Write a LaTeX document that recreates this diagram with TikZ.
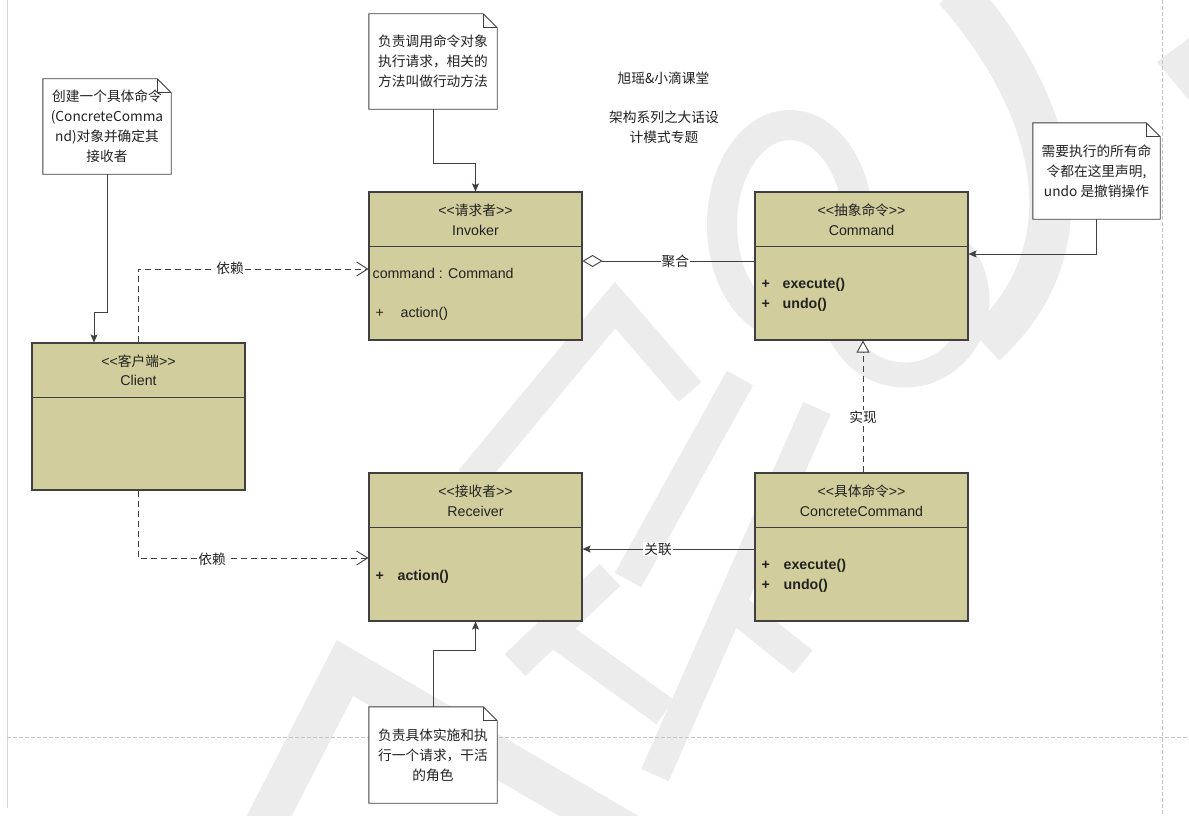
\documentclass[tikz,border=0pt]{standalone}
\usepackage{fontspec}
\setmainfont{Liberation Sans}
\newfontfamily\cjk[Scale=0.965]{Noto Sans CJK SC}
\usetikzlibrary{arrows.meta,calc}
\definecolor{khaki}{RGB}{209,205,156}
\definecolor{ln}{RGB}{64,64,64}
\definecolor{wm}{RGB}{236,236,236}
\definecolor{pg}{RGB}{196,196,196}
\definecolor{tx}{RGB}{34,34,34}
\newcommand\myll{<\kern0pt<}
\newcommand\mygg{>\kern0pt>}
\begin{document}
\begin{tikzpicture}[x=1pt,y=-1pt,
  cls/.style={draw=ln, line width=1.1pt, fill=khaki, minimum width=213pt, minimum height=148pt, inner sep=0pt},
  notebox/.style={fill=white, minimum width=128pt, minimum height=95pt, inner sep=0pt, align=center, text=tx, font={\fontsize{14.2}{20}\selectfont\cjk}},
  nb/.style={draw=ln, line width=0.9pt},
  txt/.style={inner sep=0pt, text=tx, font={\fontsize{14.2}{20}\selectfont}},
  btxt/.style={txt, font={\fontsize{14.2}{20}\selectfont\bfseries}},
  conn/.style={draw=ln, line width=0.9pt},
  dep/.style={conn, dash pattern=on 6pt off 4pt},
  lbl/.style={fill=white, inner sep=1pt, text=tx, font={\fontsize{14.2}{20}\selectfont\cjk}},
  tipf/.style={-{Stealth[length=8pt,width=7pt,inset=1.5pt]}},
  tipo/.style={-{Straight Barb[length=11pt,width=14pt,line width=0.9pt]}}
]
\useasboundingbox (0,0) rectangle (1189,816);
\fill[white] (0,0) rectangle (1189,816);

% watermark
\begin{scope}[draw=wm, fill=wm, line width=30pt]
\draw[line width=42pt] (955,-10) .. controls (1060,110) and (1090,250) .. (985,345);
\draw (790,225) ellipse [x radius=68pt, y radius=100pt];
\draw[line width=25pt] (905,300) ellipse [x radius=72pt, y radius=75pt];
\draw (470,480) -- (615,305) -- (690,392);
\draw (740,378) -- (628,580);
\draw (817,408) -- (655,775);
\draw (728,602) -- (803,662);
\draw (560,636) -- (665,712);
\draw (610,575) -- (515,665);
\draw[line width=40pt] (262,830) -- (345,668) -- (640,840);
\fill (1157,62) -- (1189,38) -- (1189,100) -- cycle;
\end{scope}

% page lines
\draw[pg!70, line width=1pt] (7,0) -- (7,808);
\draw[pg, dash pattern=on 4pt off 2pt, line width=0.8pt] (1162,0) -- (1162,816);
\draw[pg, dash pattern=on 4pt off 2pt, line width=0.8pt] (7,737) -- (1189,737);

% title
\node[txt, font={\fontsize{14.2}{20}\selectfont\cjk}] (t1) at (663.5,78) {旭瑶\&小滴课堂};
\node[txt, align=center, font={\fontsize{14.2}{20}\selectfont\cjk}] (t2) at (664,127) {架构系列之大话设\\计模式专题};

% class boxes
\node[cls] (inv) at (475.5,266) {};
\node[cls] (cmd) at (861.5,266) {};
\node[cls, minimum height=147pt] (cli) at (138.5,416.5) {};
\node[cls] (rcv) at (475.5,547) {};
\node[cls] (cc) at (861.5,547) {};
\foreach \b in {inv,cmd,cli,rcv,cc}{
  \draw[draw=ln, line width=1pt] ([yshift=-55pt]\b.north west) -- ([yshift=-55pt]\b.north east);
}

% class texts
\node[txt] (inv1) at ([yshift=-19pt]inv.north) {\myll{\cjk 请求者}\mygg};
\node[txt] (inv2) at ([yshift=-39pt]inv.north) {Invoker};
\node[txt, anchor=west] (inv3) at ([xshift=4pt,yshift=-82pt]inv.north west) {command : Command};
\node[txt, anchor=west] (inv4) at ([xshift=7pt,yshift=-122pt]inv.north west) {+};
\node[txt, anchor=west] (inv5) at ([xshift=32pt,yshift=-122pt]inv.north west) {action()};

\node[txt] (cmd1) at ([yshift=-19pt]cmd.north) {\myll{\cjk 抽象命令}\mygg};
\node[txt] (cmd2) at ([yshift=-39pt]cmd.north) {Command};
\node[btxt, anchor=west] (cmd3) at ([xshift=7pt,yshift=-93pt]cmd.north west) {+};
\node[btxt, anchor=west] (cmd4) at ([xshift=28pt,yshift=-93pt]cmd.north west) {execute()};
\node[btxt, anchor=west] (cmd5) at ([xshift=7pt,yshift=-113pt]cmd.north west) {+};
\node[btxt, anchor=west] (cmd6) at ([xshift=28pt,yshift=-113pt]cmd.north west) {undo()};

\node[txt] (cli1) at ([yshift=-19pt]cli.north) {\myll{\cjk 客户端}\mygg};
\node[txt] (cli2) at ([yshift=-38pt]cli.north) {Client};

\node[txt] (rcv1) at ([yshift=-19pt]rcv.north) {\myll{\cjk 接收者}\mygg};
\node[txt] (rcv2) at ([yshift=-39pt]rcv.north) {Receiver};
\node[btxt, anchor=west] (rcv3) at ([xshift=7pt,yshift=-104pt]rcv.north west) {+};
\node[btxt, anchor=west] (rcv4) at ([xshift=29pt,yshift=-104pt]rcv.north west) {action()};

\node[txt] (cc1) at ([yshift=-19pt]cc.north) {\myll{\cjk 具体命令}\mygg};
\node[txt] (cc2) at ([yshift=-39pt]cc.north) {ConcreteCommand};
\node[btxt, anchor=west] (cc3) at ([xshift=7pt,yshift=-93pt]cc.north west) {+};
\node[btxt, anchor=west] (cc4) at ([xshift=29pt,yshift=-93pt]cc.north west) {execute()};
\node[btxt, anchor=west] (cc5) at ([xshift=7pt,yshift=-113pt]cc.north west) {+};
\node[btxt, anchor=west] (cc6) at ([xshift=29pt,yshift=-113pt]cc.north west) {undo()};

% notes
\node[notebox] (tn) at (433,61.5) {负责调用命令对象\\执行请求，相关的\\方法叫做行动方法};
\node[notebox] (nc) at (107,126.5) {创建一个具体命令\\(ConcreteComma\\nd)对象并确定其\\接收者};
\node[notebox, minimum width=127pt, minimum height=96pt] (rn) at (1096.5,171) {需要执行的所有命\\令都在这里声明,\\undo 是撤销操作};
\node[notebox, minimum height=96pt] (bn) at (433,755) {负责具体实施和执\\行一个请求，干活\\的角色};
\foreach \n in {tn,nc,rn,bn}{
  \draw[nb] (\n.north west) -- ([xshift=-14pt]\n.north east) -- ([yshift=-14pt]\n.north east) -- (\n.south east) -- (\n.south west) -- cycle;
  \draw[nb, line width=0.7pt] ([xshift=-14pt]\n.north east) |- ([yshift=-14pt]\n.north east);
}

% connectors
\draw[conn, tipf] (nc.south) -- ++(0,138) -| ([xshift=-44.5pt]cli.north);
\draw[conn, tipf] (tn.south) -- ++(0,54) -| (inv.north);
\draw[conn, tipf] (rn.south) |- ([yshift=12pt]cmd.east);
\draw[conn, tipf] (bn.north) -- ++(0,-56) -| (rcv.south);

\draw[dep, tipo] (cli.north) |- ([yshift=-3pt]inv.west);
\node[lbl] (l1) at (230,268) {依赖};
\draw[dep, tipo] (cli.south) |- ([yshift=-11pt]rcv.west);
\node[lbl] (l2) at (212,559) {依赖};

\draw[conn, {Diamond[length=20pt,width=12pt,fill=white]}-] ([yshift=5pt]inv.east) -- ([yshift=5pt]cmd.west)
  node[lbl, pos=0.54] (l3) {聚合};
\draw[dep, -{Triangle[length=12pt,width=13pt,fill=white]}] ([xshift=1.5pt]cc.north) -- ([xshift=1.5pt]cmd.south)
  node[lbl, pos=0.42] (l4) {实现};
\draw[conn, tipf] ([yshift=-2pt]cc.west) -- ([yshift=-2pt]rcv.east)
  node[lbl, pos=0.56] (l5) {关联};
\end{tikzpicture}
\end{document}
